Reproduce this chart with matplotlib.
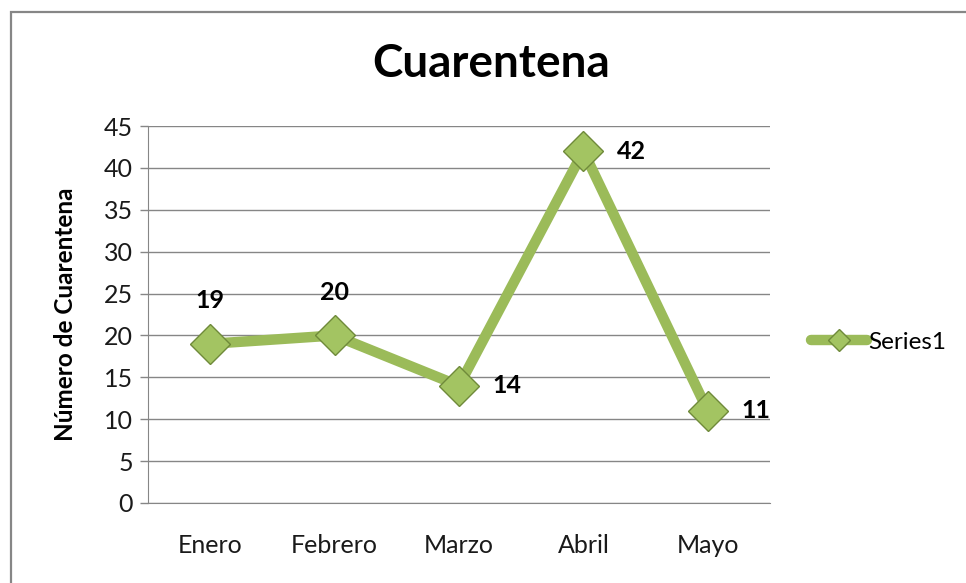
import matplotlib
matplotlib.use('Agg')
import matplotlib.pyplot as plt
from matplotlib.patches import Rectangle

meses = ['Enero', 'Febrero', 'Marzo', 'Abril', 'Mayo']
valores = [19, 20, 14, 42, 11]
# where each data label sits relative to its point
lado = ['above', 'above', 'right', 'right', 'right']
yticks = [0, 5, 10, 15, 20, 25, 30, 35, 40, 45]

plt.rcParams['font.family'] = ['Lato', 'DejaVu Sans']

verde = '#9BBB59'
gris = '#868686'

fig = plt.figure(figsize=(9.66, 5.83), dpi=100)
ax = fig.add_axes([148/966, 80/583, 622/966, 377/583])

x = list(range(len(meses)))
ax.plot(x, valores, color=verde, lw=7.5, solid_capstyle='round', zorder=3,
        marker='D', ms=20, mfc='#A3C462', mec='#6F8A3A', mew=1.0, label='Series1')

for i, v in enumerate(valores):
    if lado[i] == 'above':
        off = (0, 31)
        ha = 'center'
    else:
        off = (24, 0)
        ha = 'left'
    ax.annotate(str(v), (i, v), xytext=off, textcoords='offset points',
                ha=ha, va='center', fontsize=18, fontweight='bold', color='black', zorder=4)

ax.set_xlim(-0.5, len(meses) - 0.5)
ax.set_ylim(0, 45)
ax.set_yticks(yticks)
ax.set_xticks(x)
ax.set_xticklabels(meses)
ax.yaxis.grid(True, color=gris, lw=1)
ax.set_axisbelow(True)

for s in ['top', 'right']:
    ax.spines[s].set_visible(False)
ax.spines['left'].set_color(gris)
ax.spines['bottom'].set_color(gris)
ax.tick_params(axis='y', length=6, color=gris, width=1, pad=5, labelsize=18)
ax.tick_params(axis='x', length=0, pad=22, labelsize=18)
for t in ax.get_xticklabels() + ax.get_yticklabels():
    t.set_color('#1a1a1a')

ax.set_ylabel('Número de Cuarentena', fontsize=17.5, fontweight='bold', labelpad=19)

fig.text(491/966, 1 - 64/583, 'Cuarentena', ha='center', va='center',
         fontsize=33, fontweight='bold')

fig.legend(loc='center left', bbox_to_anchor=(806/966, 1 - 342/583), frameon=False,
           fontsize=17.5, handlelength=2.3, markerscale=0.55, handletextpad=0.05,
           borderaxespad=0, borderpad=0.2)

# outer chart border (only top and left show in the original crop)
fig.patches.append(Rectangle((11/966, -0.5), 2, 0.5 + 1 - 12/583, fill=False,
                             edgecolor=gris, lw=1.6, transform=fig.transFigure))

fig.savefig('out.png', dpi=100)
